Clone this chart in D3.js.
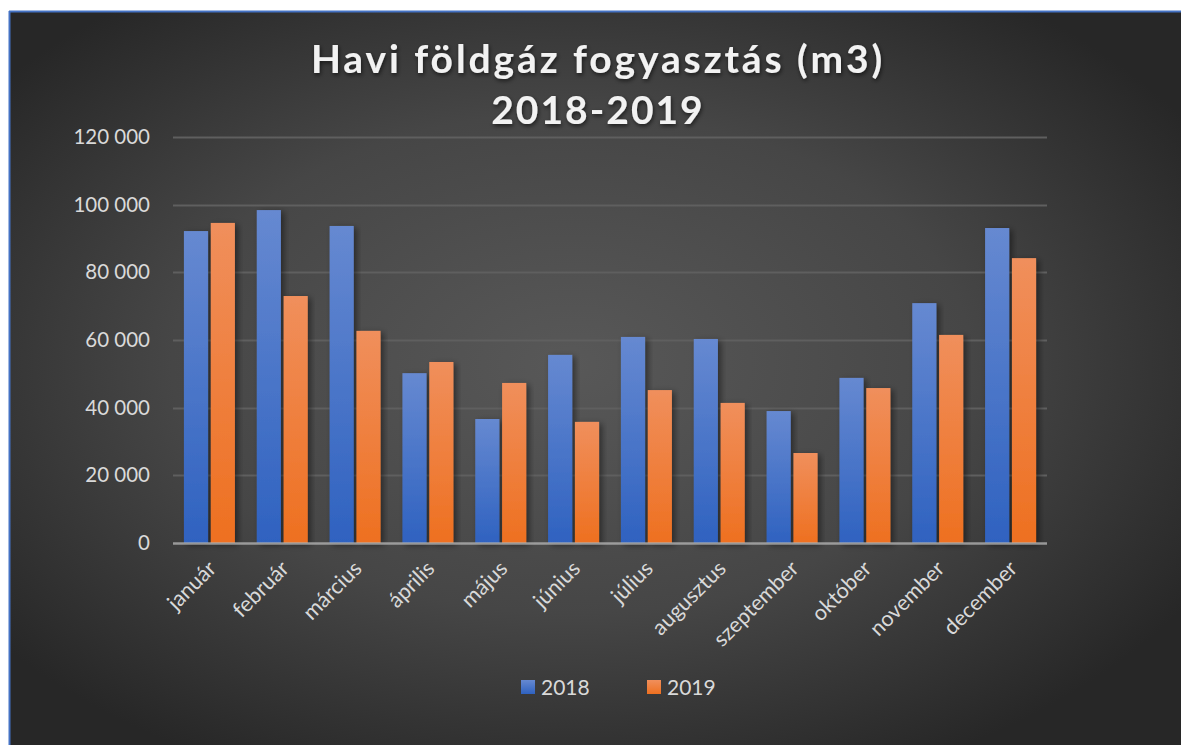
<!DOCTYPE html>
<html>
<head>
<meta charset="utf-8">
<script src="https://cdn.jsdelivr.net/npm/d3@7"></script>
<style>
  html, body { margin: 0; padding: 0; background: #ffffff; }
  svg { display: block; }
</style>
</head>
<body>
<svg id="chart" width="1181" height="745"></svg>
<script>
const months = ["január","február","március","április","május","június","július","augusztus","szeptember","október","november","december"];
const series2018 = [92200, 98400, 93700, 50200, 36650, 55600, 60900, 60300, 39000, 48800, 70900, 93100];
const series2019 = [94600, 73000, 62700, 53500, 47300, 35800, 45200, 41400, 26600, 45800, 61500, 84200];
const seriesNames = ["2018", "2019"];
const yTicks = [0, 20000, 40000, 60000, 80000, 100000, 120000];
const titleLines = ["Havi földgáz fogyasztás (m3)", "2018-2019"];

const svg = d3.select("#chart");
const W = 1181, H = 745;
const defs = svg.append("defs");

// background gradient
const bg = defs.append("radialGradient").attr("id", "bgGrad")
  .attr("cx", "48%").attr("cy", "48%").attr("r", "62%");
bg.append("stop").attr("offset", "0%").attr("stop-color", "#585858");
bg.append("stop").attr("offset", "55%").attr("stop-color", "#464646");
bg.append("stop").attr("offset", "100%").attr("stop-color", "#272727");

const gBlue = defs.append("linearGradient").attr("id", "gBlue").attr("x1", 0).attr("y1", 0).attr("x2", 0).attr("y2", 1);
gBlue.append("stop").attr("offset", "0%").attr("stop-color", "#6689d1");
gBlue.append("stop").attr("offset", "100%").attr("stop-color", "#2f62c0");
const gOrange = defs.append("linearGradient").attr("id", "gOrange").attr("x1", 0).attr("y1", 0).attr("x2", 0).attr("y2", 1);
gOrange.append("stop").attr("offset", "0%").attr("stop-color", "#f08f5c");
gOrange.append("stop").attr("offset", "100%").attr("stop-color", "#ee7020");

const shadow = defs.append("filter").attr("id", "shadow").attr("x", "-30%").attr("y", "-10%").attr("width", "160%").attr("height", "120%");
shadow.append("feDropShadow").attr("dx", 3).attr("dy", 2).attr("stdDeviation", 3)
  .attr("flood-color", "#000").attr("flood-opacity", 0.45);

const tshadow = defs.append("filter").attr("id", "tshadow").attr("x", "-10%").attr("y", "-30%").attr("width", "120%").attr("height", "160%");
tshadow.append("feDropShadow").attr("dx", 1).attr("dy", 2).attr("stdDeviation", 2)
  .attr("flood-color", "#000").attr("flood-opacity", 0.6);

// chart area
svg.append("rect").attr("x", 9).attr("y", 11).attr("width", W - 9).attr("height", H - 11)
  .attr("fill", "url(#bgGrad)");
svg.append("line").attr("x1", 9.5).attr("x2", 9.5).attr("y1", 11).attr("y2", H).attr("stroke", "#4472c4").attr("stroke-width", 2);
svg.append("line").attr("x1", 9).attr("x2", W).attr("y1", 11.5).attr("y2", 11.5).attr("stroke", "#4472c4").attr("stroke-width", 2);

const x0 = 173, x1 = 1047, y0 = 543, y1 = 137;
const x = d3.scaleBand().domain(months).range([x0, x1]).paddingInner(0.3).paddingOuter(0.15);
const xs = d3.scaleBand().domain(seriesNames).range([0, x.bandwidth()]).paddingInner(0.1);
const y = d3.scaleLinear().domain([0, 120000]).range([y0, y1]);

const fmt = v => d3.format(",")(v).replace(/,/g, " ");
const font = "Lato, 'Open Sans', sans-serif";

// gridlines
svg.append("g").selectAll("line").data(yTicks.filter(d => d > 0)).join("line")
  .attr("x1", x0).attr("x2", x1)
  .attr("y1", d => Math.round(y(d)) + 0.5).attr("y2", d => Math.round(y(d)) + 0.5)
  .attr("stroke", "#5f5f5f").attr("stroke-width", 2);

// y axis labels
const yAxis = d3.axisLeft(y).tickValues(yTicks).tickFormat(fmt).tickSize(0).tickPadding(23);
const yg = svg.append("g").attr("transform", `translate(${x0},0)`).call(yAxis);
yg.select(".domain").remove();
yg.selectAll("text").attr("fill", "#d9d9d9").style("font-family", font).style("font-size", "20.5px");

// bars
const data = months.map((m, i) => ({ m, vals: [
  { s: "2018", v: series2018[i], fill: "url(#gBlue)" },
  { s: "2019", v: series2019[i], fill: "url(#gOrange)" } ] }));
const groups = svg.append("g").selectAll("g").data(data).join("g")
  .attr("transform", d => `translate(${x(d.m)},0)`);
groups.selectAll("rect").data(d => d.vals).join("rect")
  .attr("x", d => xs(d.s)).attr("width", xs.bandwidth())
  .attr("y", d => y(d.v)).attr("height", d => y0 - y(d.v))
  .attr("fill", d => d.fill).attr("filter", "url(#shadow)");

// x axis line
svg.append("line").attr("x1", x0).attr("x2", x1).attr("y1", y0 + 0.5).attr("y2", y0 + 0.5)
  .attr("stroke", "#b0b0b0").attr("stroke-opacity", 0.8).attr("stroke-width", 2.5);

// x labels
const xAxis = d3.axisBottom(x).tickSize(0).tickPadding(0);
const xg = svg.append("g").attr("transform", `translate(0,${y0})`).call(xAxis);
xg.select(".domain").remove();
xg.selectAll("text")
  .attr("fill", "#d9d9d9").style("font-family", font).style("font-size", "21.5px")
  .attr("text-anchor", "end").attr("dy", 0).attr("y", 0)
  .attr("transform", "translate(8,27) rotate(-45)");

// title
const title = svg.append("text").attr("x", 598).attr("text-anchor", "middle")
  .attr("fill", "#f2f2f2").style("font-family", font).style("font-size", "39px")
  .style("font-weight", "bold").attr("filter", "url(#tshadow)");
title.selectAll("tspan").data(titleLines).join("tspan")
  .attr("x", 598).attr("y", (d, i) => 73 + i * 51)
  .style("letter-spacing", (d, i) => i === 0 ? "2.9px" : "2px")
  .text(d => d);

// legend
const legendColors = ["url(#gBlue)", "url(#gOrange)"];
const leg = svg.append("g").selectAll("g").data(seriesNames).join("g")
  .attr("transform", (d, i) => `translate(${521 + i * 126},680)`);
leg.append("rect").attr("width", 14).attr("height", 14).attr("fill", (d, i) => legendColors[i]);
leg.append("text").attr("x", 20).attr("y", 14.5).text(d => d)
  .attr("fill", "#d9d9d9").style("font-family", font).style("font-size", "21px");
</script>
</body>
</html>
